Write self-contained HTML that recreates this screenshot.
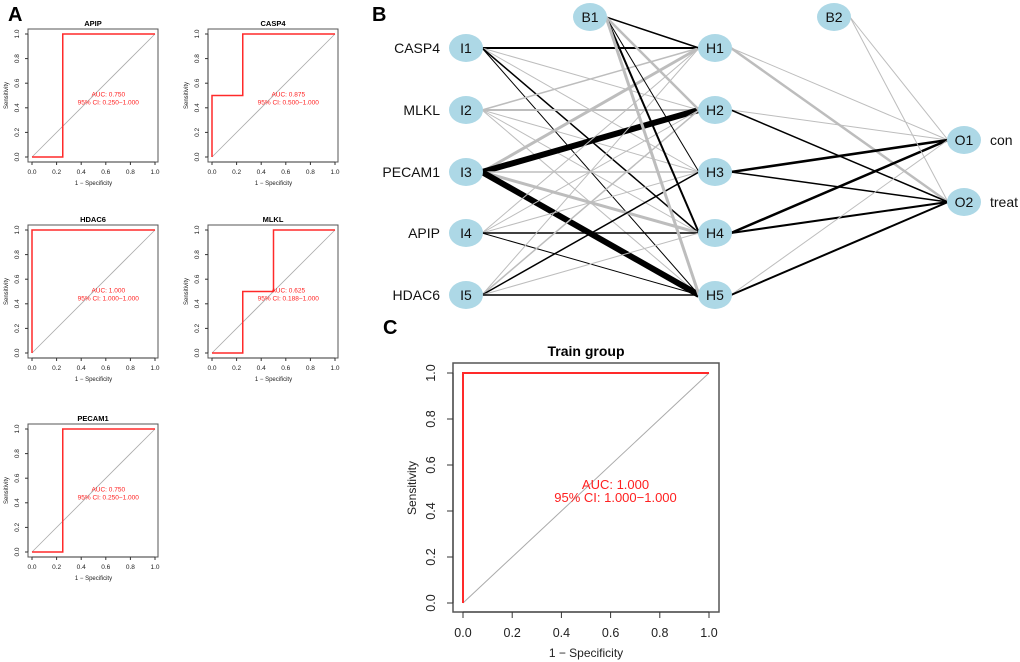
<!DOCTYPE html>
<html><head><meta charset="utf-8"><style>
html,body{margin:0;padding:0;background:#fff;}
svg{display:block;font-family:"Liberation Sans",Arial,sans-serif;}
</style></head><body>
<svg id="fig" width="1020" height="662" viewBox="0 0 1020 662" xmlns="http://www.w3.org/2000/svg">
<text x="8" y="21" font-size="20" font-weight="bold">A</text>
<text x="372" y="21" font-size="20" font-weight="bold">B</text>
<text x="383" y="334" font-size="20" font-weight="bold">C</text>
<g id="gA"></g>
<g id="gB"></g>
<g id="gC"></g>
</svg>
<script>
const genes = ["APIP","CASP4","HDAC6","MLKL","PECAM1"];
const fprValues = [[0,0.25,0.25,1],[0,0,0.25,0.25,1],[0,0,1],[0,0.25,0.25,0.5,0.5,1],[0,0.25,0.25,1]];
const tprValues = [[0,0,1,1],[0,0.5,0.5,1,1],[0,1,1],[0,0,0.5,0.5,1,1],[0,0,1,1]];
const aucLabels = ["0.750","0.875","1.000","0.625","0.750"];
const ciLabels = ["0.250\u22121.000","0.500\u22121.000","1.000\u22121.000","0.188\u22121.000","0.250\u22121.000"];
const tickLabels = ["0.0","0.2","0.4","0.6","0.8","1.0"];
const tickValues = [0,0.2,0.4,0.6,0.8,1];
const trainFpr = [0,0,1];
const trainTpr = [0,1,1];
const trainAuc = "1.000";
const trainCi = "1.000\u22121.000";

const NS="http://www.w3.org/2000/svg";
function mk(parent,tag,attrs,txt){const e=document.createElementNS(NS,tag);for(const k in attrs)e.setAttribute(k,attrs[k]);if(txt!==undefined)e.textContent=txt;parent.appendChild(e);return e;}

function roc(parent,o,title,fpr,tpr,auc,ci,nm){
  const g=mk(parent,'g',{});
  
  
  const sx=v=>o.x0+(o.x1-o.x0)*v, sy=v=>o.y0-(o.y0-o.y1)*v;
  const t=mk(g,'text',{x:(o.bl+o.br)/2,y:o.ty,'font-size':o.tf,'font-weight':'bold','text-anchor':'middle'},title);
  
  
  const d=mk(g,'line',{x1:sx(0),y1:sy(0),x2:sx(1),y2:sy(1),stroke:'#aaa','stroke-width':o.dw});
  
  
  const pts=fpr.map((f,i)=>sx(f)+','+sy(tpr[i])).join(' ');
  const c=mk(g,'polyline',{points:pts,fill:'none',stroke:'#ff2a2a','stroke-width':o.lw});
  
  
  const b=mk(g,'rect',{x:o.bl,y:o.bt,width:o.br-o.bl,height:o.bb-o.bt,fill:'none',stroke:'#555','stroke-width':o.bw});
  
  
  mk(g,'line',{x1:sx(0),y1:o.bb,x2:sx(1),y2:o.bb,stroke:'#333','stroke-width':1});
  mk(g,'line',{x1:o.bl,y1:sy(0),x2:o.bl,y2:sy(1),stroke:'#333','stroke-width':1});
  tickValues.forEach((v,i)=>{
    mk(g,'line',{x1:sx(v),y1:o.bb,x2:sx(v),y2:o.bb+o.tl,stroke:'#333','stroke-width':1});
    const xl=mk(g,'text',{x:sx(v),y:o.xty,'font-size':o.kf,'text-anchor':'middle',fill:'#222'},tickLabels[i]);
    
    
    mk(g,'line',{x1:o.bl,y1:sy(v),x2:o.bl-o.tl,y2:sy(v),stroke:'#333','stroke-width':1});
    const yl=mk(g,'text',{x:o.ytx,y:sy(v),'font-size':o.kf,'text-anchor':'middle',fill:'#222',transform:`rotate(-90 ${o.ytx} ${sy(v)})`},tickLabels[i]);
    
    
  });
  const xa=mk(g,'text',{x:(sx(0)+sx(1))/2,y:o.xly,'font-size':o.lf,'text-anchor':'middle',fill:'#222'},'1 \u2212 Specificity');
  
  
  const ya=mk(g,'text',{x:o.ylx,y:(sy(0)+sy(1))/2,'font-size':o.lf,'text-anchor':'middle',fill:'#222',transform:`rotate(-90 ${o.ylx} ${(sy(0)+sy(1))/2})`},'Sensitivity');
  
  
  const a1=mk(g,'text',{x:sx(0.62),y:sy(0.5)+o.a1,'font-size':o.af,'text-anchor':'middle',fill:'#ff2020'},'AUC: '+auc);
  
  
  const a2=mk(g,'text',{x:sx(0.62),y:sy(0.5)+o.a2,'font-size':o.af,'text-anchor':'middle',fill:'#ff2020'},'95% CI: '+ci);
  
  
}

const gA=document.getElementById('gA');
const pos=[[0,0],[1,0],[0,1],[1,1],[0,2]];
const rowOff=[0,196,395];
genes.forEach((gname,i)=>{
  const dx=pos[i][0]*180, dy=rowOff[pos[i][1]];
  roc(gA,{x0:32+dx,x1:155+dx,y0:157+dy,y1:34+dy,bl:28+dx,br:158+dx,bt:29+dy,bb:162+dy,
    ty:26+dy,tf:7.5,dw:0.8,lw:1.5,bw:1,tl:3,xty:174+dy,kf:6.5,ytx:19+dx,xly:185+dy,ylx:8+dx,lf:6,af:6.5,a1:1,a2:9},
    gname,fprValues[i],tprValues[i],aucLabels[i],ciLabels[i],gname.toLowerCase());
});

roc(document.getElementById('gC'),{x0:463,x1:709,y0:603,y1:373,bl:453,br:719,bt:363,bb:612,
  ty:356,tf:14,dw:1,lw:2,bw:1.5,tl:6,xty:637,kf:12.5,ytx:435,xly:657,ylx:416,lf:12,af:13,a1:1,a2:14},
  'Train group',trainFpr,trainTpr,trainAuc,trainCi,'train');

// Network
const nodeNames=["I1","I2","I3","I4","I5","H1","H2","H3","H4","H5","B1","B2","O1","O2"];
const nodeX={I:466,H:715,B1:590,B2:834,O:964};
const inY=[48,110,172,233,295];
const outY=[140,202];
const inputLabels=["CASP4","MLKL","PECAM1","APIP","HDAC6"];
const outputLabels=["con","treat"];
const edgeFrom=["I1","I1","I1","I1","I1","I2","I2","I2","I2","I2","I3","I3","I3","I3","I3","I4","I4","I4","I4","I4","I5","I5","I5","I5","I5","B1","B1","B1","B1","B1","H1","H1","H2","H2","H3","H3","H4","H4","H5","H5","B2","B2"];
const edgeTo=["H1","H2","H3","H4","H5","H1","H2","H3","H4","H5","H1","H2","H3","H4","H5","H1","H2","H3","H4","H5","H1","H2","H3","H4","H5","H1","H2","H3","H4","H5","O1","O2","O1","O2","O1","O2","O1","O2","O1","O2","O1","O2"];
const edgeSign=["k","g","g","k","k","g","g","g","g","g","g","k","g","g","k","g","g","g","k","k","g","g","k","g","k","k","g","k","k","g","g","g","g","k","k","k","k","k","g","k","g","g"];
const edgeWeight=[2,1,1,1.5,1,1.5,2,1,1,1,3,6,1.5,3,6,1,1,1,1.5,1,1,1.5,1.5,1,1.5,1.5,2.5,1,2,3,1,2.5,1,1.5,2.5,1.5,2.5,2,1,2];

function nodePos(n){
  if(n[0]==='I')return [nodeX.I,inY[+n[1]-1]];
  if(n[0]==='H')return [nodeX.H,inY[+n[1]-1]];
  if(n[0]==='O')return [nodeX.O,outY[+n[1]-1]];
  if(n==='B1')return [nodeX.B1,17];
  return [nodeX.B2,17];
}
const gB=document.getElementById('gB');
edgeFrom.forEach((f,i)=>{
  const [x1,y1]=nodePos(f),[x2,y2]=nodePos(edgeTo[i]);
  const l=mk(gB,'line',{x1:x1+16,y1:y1,x2:x2-16,y2:y2,stroke:edgeSign[i]==='k'?'#000':'#bdbdbd','stroke-width':edgeWeight[i]});
  
  
});
nodeNames.forEach(n=>{
  const [x,y]=nodePos(n);
  const e=mk(gB,'ellipse',{cx:x,cy:y,rx:17,ry:14,fill:'#add8e6'});
  
  
  const t=mk(gB,'text',{x:x,y:y+5,'font-size':14,'text-anchor':'middle',fill:'#111'},n);
  
  
});
inputLabels.forEach((s,i)=>{
  const t=mk(gB,'text',{x:440,y:inY[i]+5,'font-size':14,'text-anchor':'end',fill:'#111'},s);
  
  
});
outputLabels.forEach((s,i)=>{
  const t=mk(gB,'text',{x:990,y:outY[i]+5,'font-size':14,fill:'#111'},s);
  
  
});
</script>
</body></html>
